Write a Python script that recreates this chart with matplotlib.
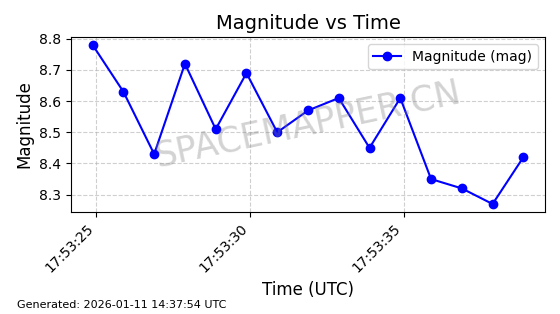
import numpy as np
import pandas as pd
import matplotlib
matplotlib.use('Agg')
import matplotlib.pyplot as plt
import matplotlib.dates as mdates

# data
start_time = '2026-01-11 17:53:24.89'
offsets_s = [0, 1, 2, 3, 4, 5, 6, 7, 8, 9, 10, 11, 12, 13, 14]
magnitude = [8.78, 8.63, 8.43, 8.72, 8.51, 8.69, 8.50, 8.57, 8.61, 8.45,
             8.61, 8.35, 8.32, 8.27, 8.42]
times = pd.to_datetime(start_time) + pd.to_timedelta(offsets_s, unit='s')

fig = plt.figure(figsize=(5.6, 3.14), dpi=100)
ax = fig.add_axes([0.127, 0.325, 0.846, 0.557])

ax.plot(times, magnitude, 'o-', color='blue', linewidth=1.5, markersize=6,
        label='Magnitude (mag)')
ax.set_title('Magnitude vs Time', fontsize=14)
ax.set_xlabel('Time (UTC)', fontsize=12)
ax.set_ylabel('Magnitude', fontsize=12)
ax.xaxis.set_major_locator(mdates.SecondLocator(bysecond=range(0, 60, 5)))
ax.xaxis.set_major_formatter(mdates.DateFormatter('%H:%M:%S'))
plt.setp(ax.get_xticklabels(), rotation=45, ha='right')
ax.grid(True, linestyle='--', alpha=0.6)
ax.legend(loc='upper right')

# watermark
ax.text(0.5, 0.5, 'SPACEMAPPER.CN', transform=ax.transAxes, fontsize=25,
        color='gray', alpha=0.35, rotation=12, ha='center', va='center')
fig.text(0.03, 0.02, 'Generated: 2026-01-11 14:37:54 UTC', fontsize=8)

plt.savefig('out.png', dpi=100)
